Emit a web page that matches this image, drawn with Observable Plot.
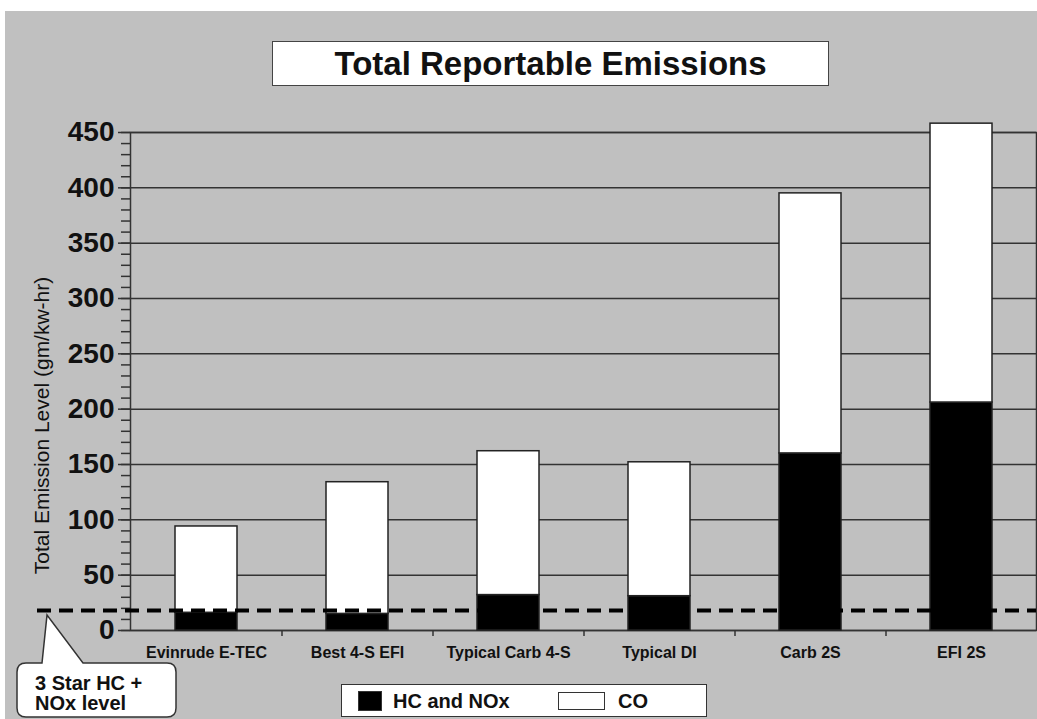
<!DOCTYPE html>
<html>
<head>
<meta charset="utf-8">
<script src="https://cdn.jsdelivr.net/npm/d3@7"></script>
<script src="https://cdn.jsdelivr.net/npm/@observablehq/plot@0.6"></script>
<style>
  body { margin: 0; background: #fff; font-family: "Liberation Sans", Arial, sans-serif; }
  #panel { position: absolute; left: 5px; top: 11px; width: 1032px; height: 708px; background: #c0c0c0; overflow: hidden; }
  #panel > svg { position: absolute; left: 0; top: 0; }
  #title { position: absolute; left: 267px; top: 30px; width: 557px; height: 45px; box-sizing: border-box;
           background: #fff; border: 1.5px solid #444; display: flex; align-items: center; justify-content: center;
           font-weight: bold; font-size: 33px; color: #111; }
  #legend { position: absolute; left: 336px; top: 673px; width: 366px; height: 33px; box-sizing: border-box;
            background: #fff; border: 1.5px solid #333; font-size: 20px; font-weight: bold; color: #111; }
  #legend .sw { position: absolute; box-sizing: border-box; border: 1.5px solid #333; }
  #legend .lab { position: absolute; top: 50%; transform: translateY(-50%); white-space: nowrap; }
  #callout { position: absolute; left: 0; top: 0; pointer-events: none; }
</style>
</head>
<body>
<div id="panel">
  <div id="title">Total Reportable Emissions</div>
</div>
<script>
// Engine categories and emission components (gm/kw-hr)
const categories = ["Evinrude E-TEC", "Best 4-S EFI", "Typical Carb 4-S", "Typical DI", "Carb 2S", "EFI 2S"];
const hcNox = [16, 15, 32, 31, 160, 206];
const co = [78, 119, 130, 121, 235, 252];
const seriesNames = ["HC and NOx", "CO"];
const seriesColors = ["#000", "#fff"];
const threeStarLevel = 18;
const yLabel = "Total Emission Level (gm/kw-hr)";
const yTicks = d3.range(0, 451, 50);
const yMinorTicks = d3.range(0, 451, 10);
const calloutLines = ["3 Star HC +", "NOx level"];

const rows = categories.flatMap((c, i) => [
  {category: c, series: seriesNames[0], value: hcNox[i]},
  {category: c, series: seriesNames[1], value: co[i]}
]);

const W = 1032, H = 708, mL = 125, mR = 1, mT = 121, mB = 89;
const step = (W - mL - mR) / categories.length;
const font = '"Liberation Sans", Arial, sans-serif';

const chart = Plot.plot({
  width: W, height: H,
  marginLeft: mL, marginRight: mR, marginTop: mT, marginBottom: mB,
  style: {background: "transparent", fontFamily: font, color: "#111", overflow: "visible"},
  x: {domain: categories, paddingInner: 0.59, paddingOuter: 0.295, axis: null},
  y: {domain: [0, 450], axis: null},
  color: {domain: seriesNames, range: seriesColors},
  marks: [
    Plot.gridY(yTicks, {stroke: "#333", strokeOpacity: 1, strokeWidth: 1.5}),
    Plot.frame({stroke: "#333", strokeWidth: 1.5}),
    Plot.axisY(yMinorTicks, {tickSize: 9, tickFormat: () => "", stroke: "#333", strokeWidth: 1.5, label: null}),
    Plot.axisY(yTicks, {tickSize: 12, tickPadding: 4, fontSize: 28, fontWeight: "bold", fill: "#111",
                        stroke: "#333", strokeWidth: 1.5, label: null}),
    Plot.axisX({tickSize: 0, tickPadding: 16, fontSize: 16, fontWeight: "bold", fill: "#111", label: null}),
    // small ticks between categories, below the baseline
    Plot.ruleX(categories.slice(1), {x: d => d, dx: -step / 2, insetTop: H - mT - mB, insetBottom: -6,
                                     stroke: "#333", strokeWidth: 1.5}),
    Plot.barY(rows, {x: "category", y: "value", fill: "series", stroke: "#222", strokeWidth: 1.5}),
    Plot.ruleY([threeStarLevel], {stroke: "#000", strokeWidth: 4, strokeDasharray: "14,8", insetLeft: -93}),
    Plot.text([yLabel], {frameAnchor: "left", textAnchor: "middle", rotate: -90, dx: -88, dy: 44,
                         fontSize: 21, fill: "#111"})
  ]
});

const panel = document.getElementById("panel");
panel.insertBefore(chart, panel.firstChild);

// Legend
const legend = document.createElement("div");
legend.id = "legend";
const swatchBoxes = [{left: 16, top: 6, w: 24, h: 20}, {left: 216, top: 7, w: 47, h: 18}];
const labelLefts = [51, 276];
seriesNames.forEach((name, i) => {
  const sw = document.createElement("div");
  sw.className = "sw";
  const b = swatchBoxes[i];
  Object.assign(sw.style, {left: b.left + "px", top: b.top + "px", width: b.w + "px", height: b.h + "px",
                           background: chart.scale("color").apply(name)});
  legend.appendChild(sw);
  const lab = document.createElement("div");
  lab.className = "lab";
  lab.style.left = labelLefts[i] + "px";
  lab.textContent = name;
  legend.appendChild(lab);
});
panel.appendChild(legend);

// Callout pointing at the dashed threshold line
const tipY = chart.scale("y").apply(threeStarLevel) + 5;
const bx0 = 12, bx1 = 171, by0 = 652, by1 = 706, r = 9;
const ns = "http://www.w3.org/2000/svg";
const svg = document.createElementNS(ns, "svg");
svg.setAttribute("id", "callout");
svg.setAttribute("width", W);
svg.setAttribute("height", H);
const path = document.createElementNS(ns, "path");
path.setAttribute("d",
  `M${bx0 + r},${by0} L37,${by0} L42,${tipY} L78,${by0} L${bx1 - r},${by0} ` +
  `Q${bx1},${by0} ${bx1},${by0 + r} L${bx1},${by1 - r} Q${bx1},${by1} ${bx1 - r},${by1} ` +
  `L${bx0 + r},${by1} Q${bx0},${by1} ${bx0},${by1 - r} L${bx0},${by0 + r} Q${bx0},${by0} ${bx0 + r},${by0} Z`);
path.setAttribute("fill", "#fff");
path.setAttribute("stroke", "#333");
path.setAttribute("stroke-width", "1.5");
svg.appendChild(path);
calloutLines.forEach((line, i) => {
  const t = document.createElementNS(ns, "text");
  t.setAttribute("x", 30);
  t.setAttribute("y", 679 + i * 20);
  t.setAttribute("font-family", font);
  t.setAttribute("font-size", 20);
  t.setAttribute("font-weight", "bold");
  t.setAttribute("fill", "#111");
  t.textContent = line;
  svg.appendChild(t);
});
panel.appendChild(svg);
</script>
</body>
</html>
